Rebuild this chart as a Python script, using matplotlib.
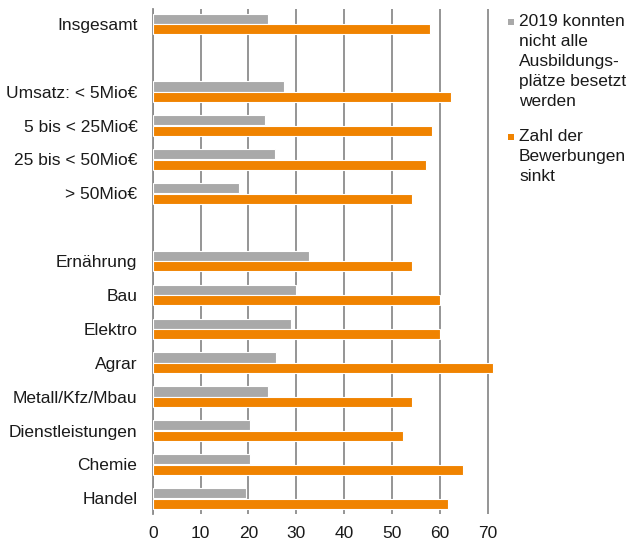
import matplotlib
matplotlib.use("Agg")
import matplotlib.pyplot as plt
from matplotlib.patches import Rectangle

plt.rcParams['font.family'] = ['Liberation Sans', 'DejaVu Sans']

# Categories top to bottom; empty strings are spacer rows
categories = ["Insgesamt", "", "Umsatz: < 5Mio€", "5 bis < 25Mio€", "25 bis < 50Mio€",
              "> 50Mio€", "", "Ernährung", "Bau", "Elektro", "Agrar",
              "Metall/Kfz/Mbau", "Dienstleistungen", "Chemie", "Handel"]
plaetze_nicht_besetzt = [24.1, None, 27.5, 23.5, 25.5, 18.0, None,
                         32.6, 29.9, 28.9, 25.8, 24.1, 20.4, 20.4, 19.4]
bewerbungen_sinkt = [57.9, None, 62.3, 58.4, 57.0, 54.2, None,
                     54.2, 60.0, 60.0, 71.2, 54.2, 52.2, 64.8, 61.7]
series_labels = ["2019 konnten\nnicht alle\nAusbildungs-\nplätze besetzt\nwerden",
                 "Zahl der\nBewerbungen\nsinkt"]
x_ticks = [0, 10, 20, 30, 40, 50, 60, 70]

grey = "#A9A9A9"
orange = "#F08300"
fs = 12.5

fig = plt.figure(figsize=(6.3, 5.45), dpi=100)
ax = fig.add_axes([0.2424, 0.057, 0.547, 0.9265])

h = 0.30
for i, (g, o) in enumerate(zip(plaetze_nicht_besetzt, bewerbungen_sinkt)):
    if g is None:
        continue
    ax.barh(i - 0.155, g, height=h, color=grey, edgecolor="white", linewidth=0.8, zorder=3)
    ax.barh(i + 0.155, o, height=h, color=orange, edgecolor="white", linewidth=0.8, zorder=3)

ax.set_ylim(14.46, -0.44)
ax.set_xlim(0, 72)
ax.set_yticks(range(len(categories)))
ax.set_yticklabels(categories, fontsize=fs, color="#1a1a1a")
ax.set_xticks(x_ticks)
ax.set_xticklabels([str(t) for t in x_ticks], fontsize=fs, color="#1a1a1a")
ax.tick_params(axis="y", length=0, pad=11)
ax.tick_params(axis="x", length=0, pad=9)

ax.grid(axis="x", color="#8C8C8C", linewidth=1.3, zorder=0)
ax.set_axisbelow(True)
for s in ["top", "right", "bottom"]:
    ax.spines[s].set_visible(False)
ax.spines["left"].set_color("#8C8C8C")
ax.spines["left"].set_linewidth(1.3)

# Legend drawn alongside the plot, marker aligned with first text line
W, H = 630, 545
legend_items = [(grey, series_labels[0], 14, 18.5), (orange, series_labels[1], 129, 133.5)]
for color, label, ytop, ymark in legend_items:
    fig.text(519 / W, 1 - ytop / H, label, fontsize=fs, va="top", ha="left",
             linespacing=1.42, color="#1a1a1a")
    fig.patches.append(Rectangle((508 / W, 1 - (ymark + 6) / H), 6 / W, 6 / H,
                                 transform=fig.transFigure, facecolor=color,
                                 edgecolor="none"))

fig.savefig("out.png", dpi=100)
